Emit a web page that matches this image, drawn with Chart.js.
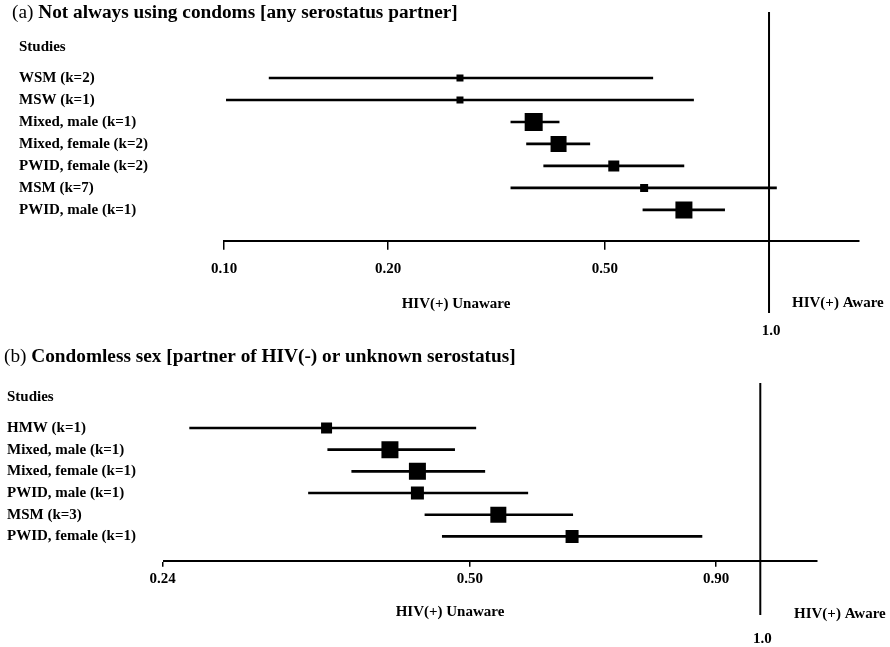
<!DOCTYPE html>
<html>
<head>
<meta charset="utf-8">
<script src="https://cdn.jsdelivr.net/npm/chart.js@4.4.0/dist/chart.umd.min.js"></script>
<style>
body{margin:0;background:#fff;}
#wrap{position:relative;width:890px;height:647px;overflow:hidden;}
canvas{position:absolute;left:0;}
</style>
</head>
<body>
<div id="wrap">
<canvas id="cA" width="890" height="340" style="top:0"></canvas>
<canvas id="cB" width="890" height="327" style="top:320px"></canvas>
</div>
<script>
// (a) Not always using condoms [any serostatus partner]
const studiesA=["WSM (k=2)","MSW (k=1)","Mixed, male (k=1)","Mixed, female (k=2)","PWID, female (k=2)","MSM (k=7)","PWID, male (k=1)"];
const estA=[0.271,0.271,0.370,0.411,0.519,0.590,0.698];
const lowA=[0.121,0.101,0.336,0.359,0.386,0.336,0.587];
const highA=[0.612,0.727,0.412,0.469,0.698,1.032,0.829];
const weightA=[7,7,18,16,11,8,17];
const ticksA=[0.10,0.20,0.50];

// (b) Condomless sex [partner of HIV(-) or unknown serostatus]
const studiesB=["HMW (k=1)","Mixed, male (k=1)","Mixed, female (k=1)","PWID, male (k=1)","MSM (k=3)","PWID, female (k=1)"];
const estB=[0.355,0.413,0.441,0.441,0.535,0.638];
const lowB=[0.256,0.356,0.377,0.340,0.449,0.468];
const highB=[0.507,0.482,0.518,0.574,0.639,0.870];
const weightB=[11,17,17,13,16,13];
const ticksB=[0.24,0.50,0.90];

const fnt=(size,bold)=>(bold?'bold ':'')+size+'px "Liberation Serif"';
const tickFont={family:'"Liberation Serif"',size:15,weight:'bold'};
Chart.defaults.font.family='"Liberation Serif"';
Chart.defaults.color='#000';

const labelsPlugin=(t)=>({
    id:'labels',
    afterDraw:(chart)=>{
        const ctx=chart.ctx;
        const xs=chart.scales.x;
        const x1=xs.getPixelForValue(1);
        ctx.save();
        // reference line at 1.0
        ctx.strokeStyle='#000';
        ctx.lineWidth=2;
        ctx.beginPath();
        ctx.moveTo(x1,t.lineTop);
        ctx.lineTo(x1,t.lineBottom);
        ctx.stroke();
        ctx.fillStyle='#000';
        ctx.textBaseline='middle';
        ctx.textAlign='left';
        // title: panel letter in regular, rest bold
        ctx.font=fnt(t.titleSize,false);
        ctx.fillText(t.letter,t.titleX,t.titleY);
        const w=ctx.measureText(t.letter+' ').width;
        ctx.font=fnt(t.titleSize,true);
        ctx.fillText(t.title,t.titleX+w,t.titleY);
        ctx.font=fnt(15,true);
        ctx.fillText('Studies',t.studiesX,t.studiesY);
        ctx.fillText('HIV(+) Aware',t.awareX,t.awareY);
        ctx.textAlign='center';
        ctx.fillText('HIV(+) Unaware',t.unawareX,t.unawareY);
        ctx.fillText('1.0',x1+2,t.oneY);
        ctx.restore();
    }
});

const buildForest=(id,studies,est,low,high,weight,ticks,o)=>{
    return new Chart(document.getElementById(id),{
        type:'scatter',
        data:{
            datasets:[{
                type:'bar',
                indexAxis:'y',
                data:studies.map((s,i)=>({x:[low[i],high[i]],y:i})),
                backgroundColor:'#000',
                borderWidth:0,
                barThickness:2
            },{
                type:'scatter',
                data:studies.map((s,i)=>({x:est[i],y:i})),
                pointStyle:'rect',
                pointRadius:weight.map(v=>v/Math.SQRT2),
                pointBackgroundColor:'#000',
                pointBorderWidth:0
            }]
        },
        options:{
            responsive:false,
            animation:false,
            devicePixelRatio:1,
            layout:{padding:{left:o.padLeft,top:o.padTop,right:o.padRight,bottom:0}},
            plugins:{legend:{display:false},tooltip:{enabled:false},title:{display:false}},
            scales:{
                x:{
                    type:'logarithmic',
                    position:'bottom',
                    min:o.xMin,
                    max:o.xMax,
                    beginAtZero:false,
                    afterBuildTicks:(s)=>{s.ticks=ticks.map(v=>({value:v}));},
                    afterFit:(s)=>{s.height=o.xHeight;},
                    ticks:{callback:(v)=>Number(v).toFixed(2),font:tickFont,color:'#000',padding:o.tickPad,maxRotation:0,autoSkip:false},
                    grid:{display:true,drawOnChartArea:false,drawTicks:true,tickLength:o.tickLen,color:'#000',lineWidth:1.5},
                    border:{display:true,color:'#000',width:2}
                },
                y:{
                    type:'linear',
                    reverse:true,
                    offset:false,
                    min:-1,
                    max:o.yMax,
                    afterBuildTicks:(s)=>{s.ticks=studies.map((v,i)=>({value:i}));},
                    afterFit:(s)=>{s.width=o.yWidth;},
                    ticks:{callback:(v)=>studies[v],font:tickFont,color:'#000',crossAlign:'far',autoSkip:false},
                    grid:{display:false,offset:false},
                    border:{display:false}
                }
            }
        },
        plugins:[labelsPlugin(o.text)]
    });
};

buildForest('cA',studiesA,estA,lowA,highA,weightA,ticksA,{
    padLeft:19,padTop:56,padRight:31.4,xMin:0.1,xMax:1.46,xHeight:99.3,yWidth:205,yMax:7.4,tickPad:10,tickLen:9,
    text:{letter:'(a)',title:'Not always using condoms [any serostatus partner]',titleSize:19.3,titleX:12,titleY:13,
        studiesX:19,studiesY:47,unawareX:456,unawareY:304,awareX:792,awareY:303,oneY:331,lineTop:12,lineBottom:313}
});

buildForest('cB',studiesB,estB,lowB,highB,weightB,ticksB,{
    padLeft:7,padTop:86.3,padRight:73,xMin:0.2408,xMax:1.145,xHeight:86.3,yWidth:157,yMax:6.12,tickPad:3,tickLen:6,
    text:{letter:'(b)',title:'Condomless sex [partner of HIV(-) or unknown serostatus]',titleSize:19.3,titleX:4,titleY:37,
        studiesX:7,studiesY:77,unawareX:450,unawareY:292,awareX:794,awareY:294,oneY:319,lineTop:63,lineBottom:295}
});
</script>
</body>
</html>
